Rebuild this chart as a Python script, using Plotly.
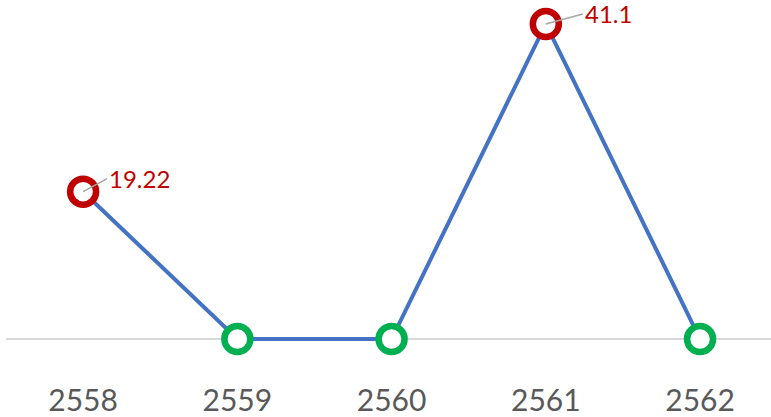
import plotly.graph_objects as go

years = ["2558", "2559", "2560", "2561", "2562"]
values = [19.22, 0, 0, 41.1, 0]
marker_colors = ["#c00000", "#00b050", "#00b050", "#c00000", "#00b050"]
label_texts = ["19.22", None, None, "41.1", None]

xi = list(range(len(years)))

fig = go.Figure()
fig.add_trace(go.Scatter(
    x=xi, y=values, mode="lines+markers",
    line=dict(color="#4472c4", width=4),
    marker=dict(size=26, color="white", symbol="circle",
                line=dict(color=marker_colors, width=6.5)),
    hoverinfo="skip", showlegend=False, cliponaxis=False,
))

offsets = {0: (24, -13), 3: (37, -10)}
for i, (v, txt) in enumerate(zip(values, label_texts)):
    if txt:
        ax, ay = offsets[i]
        fig.add_annotation(
            x=i, y=v, xref="x", yref="y",
            text=txt,
            showarrow=True, arrowhead=0, arrowwidth=1.5, arrowcolor="#a6a6a6",
            ax=ax, ay=ay, xanchor="left", yanchor="middle",
            font=dict(family="Lato, sans-serif", size=24, color="#c00000"),
            standoff=0, startstandoff=0,
        )

fig.update_layout(
    width=771, height=417,
    margin=dict(l=6, r=0, t=0, b=47),
    paper_bgcolor="white", plot_bgcolor="white",
    xaxis=dict(
        tickmode="array", tickvals=xi, ticktext=years,
        range=[-0.5, 4.46], showgrid=False, zeroline=False, showline=False,
        ticks="", ticklabelstandoff=10, automargin=False,
        tickfont=dict(family="Lato, sans-serif", size=30, color="#595959"),
    ),
    yaxis=dict(
        range=[-4.04, 44.23], showgrid=False, showticklabels=False,
        zeroline=True, zerolinecolor="#d9d9d9", zerolinewidth=1.5,
        showline=False, ticks="", automargin=False,
    ),
)

fig.write_html("out.html")
